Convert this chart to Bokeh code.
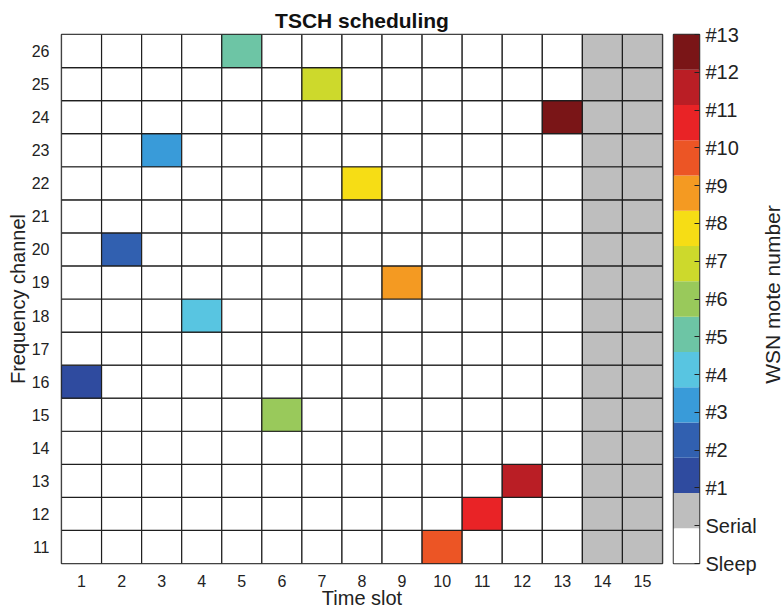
import math
from bokeh.plotting import figure
from bokeh.layouts import row
from bokeh.models import ColumnDataSource, FixedTicker, Range1d
from bokeh.core.properties import value
from bokeh.embed import file_html
from bokeh.resources import INLINE

# Schedule: each WSN mote transmits in one (time slot, channel) cell
mote_ids = [1, 2, 3, 4, 5, 6, 7, 8, 9, 10, 11, 12, 13]
mote_slots = [1, 2, 3, 4, 5, 6, 7, 8, 9, 10, 11, 12, 13]
mote_channels = [16, 20, 23, 18, 26, 15, 25, 22, 19, 11, 12, 13, 24]
serial_slots = [14, 15]
time_slots = list(range(1, 16))
channels = list(range(11, 27))

# Colour scale: Sleep, Serial, then motes #1..#13
state_labels = ["Sleep", "Serial"] + [f"#{m}" for m in mote_ids]
state_colors = [
    "#FFFFFF", "#BEBEBE",
    "#2F4B9F", "#3160B0", "#399BD9", "#58C5E1", "#6DC5A5", "#99C95B",
    "#CDD92C", "#F6DD15", "#F49A22", "#EC5525", "#E92326", "#BA1E25", "#7A1517",
]
colorbar_title = "WSN mote number"

FONT = "Liberation Sans"
TXT = "#222222"
TOP, BOTTOM, FRAME_H = 34, 46, 529

# Build the cell table
xs, ys, fills = [], [], []
assign = {(s, c): m for m, s, c in zip(mote_ids, mote_slots, mote_channels)}
for s in time_slots:
    for c in channels:
        xs.append(s)
        ys.append(c)
        if s in serial_slots:
            fills.append(state_colors[1])
        elif (s, c) in assign:
            fills.append(state_colors[1 + assign[(s, c)]])
        else:
            fills.append(state_colors[0])
src = ColumnDataSource(dict(x=xs, y=ys, fill=fills))

p = figure(
    output_backend="svg", toolbar_location=None,
    frame_width=601, frame_height=FRAME_H,
    min_border_left=61, min_border_right=3, min_border_top=TOP, min_border_bottom=BOTTOM,
    x_range=Range1d(0.5, 15.5), y_range=Range1d(10.5, 26.5),
    title="TSCH scheduling",
)
p.rect(x="x", y="y", width=1, height=1, source=src, fill_color="fill",
       line_color="#1e1e1e", line_width=1.2)
p.grid.visible = False
p.outline_line_color = "#333333"
p.outline_line_width = 1.5
p.title.align = "center"
p.title.text_font = FONT
p.title.text_font_size = "21px"
p.title.text_font_style = "bold"
p.title.text_color = "#111111"
p.title.standoff = 6

p.xaxis.ticker = FixedTicker(ticks=time_slots)
p.yaxis.ticker = FixedTicker(ticks=channels)
p.xaxis.axis_label = "Time slot"
p.yaxis.axis_label = "Frequency channel"
for ax in (p.xaxis[0], p.yaxis[0]):
    ax.axis_line_color = None
    ax.major_tick_line_color = None
    ax.minor_tick_line_color = None
    ax.major_label_text_font = FONT
    ax.major_label_text_font_size = "16px"
    ax.major_label_text_color = TXT
    ax.axis_label_text_font = FONT
    ax.axis_label_text_font_size = "20px"
    ax.axis_label_text_font_style = "normal"
    ax.axis_label_text_color = TXT
    ax.major_label_standoff = 6
    ax.axis_label_standoff = 0
p.xaxis.major_label_standoff = 5
p.xaxis.axis_label_standoff = -3

# Colour bar: one block per state, labelled by a right-hand axis
n = len(state_labels)
cb = figure(
    output_backend="svg", toolbar_location=None,
    frame_width=26, frame_height=FRAME_H,
    min_border_left=8, min_border_right=60, min_border_top=TOP, min_border_bottom=BOTTOM,
    x_range=Range1d(0, 1), y_range=Range1d(0, n),
    y_axis_location="right",
)
cb_src = ColumnDataSource(dict(
    bottom=list(range(n)), top=[i + 1 for i in range(n)], color=state_colors,
))
cb.quad(left=0, right=1, bottom="bottom", top="top", source=cb_src,
        fill_color="color", line_color=None)
cb.grid.visible = False
cb.xaxis.visible = False
cb.outline_line_color = "#333333"
cb.outline_line_width = 1.5
# evenly spaced ticks from the bottom to the top of the bar
tick_pos = [i * n / (n - 1) for i in range(n)]
cb.yaxis.ticker = FixedTicker(ticks=tick_pos)
cb.yaxis.major_label_overrides = {t: lab for t, lab in zip(tick_pos, state_labels)}
cb.yaxis.axis_line_color = None
cb.yaxis.major_tick_in = 5
cb.yaxis.major_tick_out = 0
cb.yaxis.major_tick_line_color = "#222222"
cb.yaxis.major_tick_line_width = 1.2
cb.yaxis.minor_tick_line_color = None
cb.yaxis.major_label_text_font = FONT
cb.yaxis.major_label_text_font_size = "20px"
cb.yaxis.major_label_text_color = TXT
cb.yaxis.major_label_standoff = 6

# Narrow strip holding the colour bar caption, reading bottom to top
cap = figure(
    output_backend="svg", toolbar_location=None,
    frame_width=25, frame_height=FRAME_H,
    min_border_left=0, min_border_right=0, min_border_top=TOP, min_border_bottom=BOTTOM,
    x_range=Range1d(0, 25), y_range=Range1d(FRAME_H + TOP, TOP),
)
cap.axis.visible = False
cap.grid.visible = False
cap.outline_line_color = None
cap.text(x=[13], y=[294], text=[colorbar_title], angle=math.pi / 2,
         text_align="center", text_baseline="middle",
         text_font=value(FONT), text_font_size="21px", text_color=TXT)

layout = row(p, cb, cap)
open("out.html", "w").write(file_html(layout, INLINE))
